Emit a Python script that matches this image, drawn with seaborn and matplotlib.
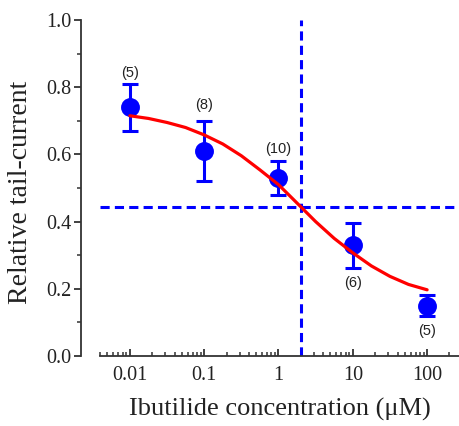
import seaborn as sns
import matplotlib.pyplot as plt
from matplotlib.ticker import FixedLocator, FixedFormatter, MultipleLocator

sns.set_style("ticks")

# measured points (Ibutilide, uM)
conc = [0.01, 0.1, 1, 10, 100]
rel_current = [0.74, 0.61, 0.53, 0.33, 0.15]
err = [0.07, 0.09, 0.05, 0.067, 0.032]
n_cells = ["(5)", "(8)", "(10)", "(6)", "(5)"]
label_y = [0.842, 0.747, 0.615, 0.216, 0.075]

# fitted curve (every quarter decade)
fit_x = [0.01, 0.0178, 0.0316, 0.0562, 0.1, 0.178, 0.316, 0.562, 1,
         1.78, 3.16, 5.62, 10, 17.8, 31.6, 56.2, 100]
fit_y = [0.715, 0.707, 0.695, 0.680, 0.658, 0.631, 0.596, 0.554, 0.510,
         0.455, 0.400, 0.350, 0.307, 0.268, 0.237, 0.213, 0.197]

ic50 = 2.0
half_level = 0.4425

xticks = [0.01, 0.1, 1, 10, 100]
xtick_labels = ["0.01", "0.1", "1", "10", "100"]

fig = plt.figure(figsize=(4.6, 4.26), dpi=100)
ax = fig.add_axes([81 / 460, 70 / 426, 379 / 460, 336 / 426])
ax.set_xscale("log")
ax.set_xlim(0.0022, 277)
ax.set_ylim(0, 1.0)

blue = "#0000FF"
dash = (0, (3, 1.7))

# guide lines
ax.plot([ic50, ic50], [0, 1.0], color=blue, lw=2.2, linestyle=dash, zorder=1)
ax.plot([0.004, 277], [half_level, half_level], color=blue, lw=2.2, linestyle=dash, zorder=1)

# data with error bars
ax.errorbar(conc, rel_current, yerr=err, fmt="none", ecolor=blue, elinewidth=2.2,
            capsize=5.8, capthick=2.2, zorder=2)
sns.scatterplot(x=conc, y=rel_current, ax=ax, color=blue, s=185, edgecolor=blue,
                linewidth=0, zorder=3)

# fit
sns.lineplot(x=fit_x, y=fit_y, ax=ax, color="#FF0000", lw=2.3, zorder=4)

for xv, yv, t in zip(conc, label_y, n_cells):
    ax.text(xv, yv, t, ha="center", va="center", fontsize=10.5,
            family="Liberation Sans", color="#222222")

# axes styling
for s in ["top", "right"]:
    ax.spines[s].set_visible(False)
ax.spines["left"].set_bounds(0, 1.0)
ax.spines["bottom"].set_bounds(0.004, 277)
for s in ["left", "bottom"]:
    ax.spines[s].set_linewidth(1.3)
    ax.spines[s].set_color("#333333")

ax.xaxis.set_major_locator(FixedLocator(xticks))
ax.xaxis.set_major_formatter(FixedFormatter(xtick_labels))
minor = [m * 10.0 ** e for e in range(-3, 3) for m in range(2, 10)]
minor = [v for v in minor if 0.004 <= v <= 277]
ax.xaxis.set_minor_locator(FixedLocator(minor))
ax.xaxis.set_minor_formatter(FixedFormatter([""] * len(minor)))
ax.yaxis.set_major_locator(MultipleLocator(0.2))
ax.yaxis.set_minor_locator(MultipleLocator(0.1))
ax.set_yticklabels([f"{v:.1f}" for v in ax.get_yticks()])

serif = "Liberation Serif"
ax.tick_params(axis="x", which="major", direction="in", length=5, width=1.3,
               color="#333333", pad=7, labelsize=14.5)
ax.tick_params(axis="x", which="minor", direction="in", length=3, width=1.1, color="#333333")
ax.tick_params(axis="y", which="major", direction="out", length=5, width=1.3,
               color="#333333", pad=2, labelsize=14.5)
ax.tick_params(axis="y", which="minor", direction="out", length=3, width=1.1, color="#333333")
for lab in ax.get_xticklabels() + ax.get_yticklabels():
    lab.set_family(serif)
    lab.set_color("#222222")

ax.set_xlabel("Ibutilide concentration (μM)", family=serif, fontsize=19, color="#222222")
ax.set_ylabel("Relative tail-current", family=serif, fontsize=20, color="#222222")
ax.xaxis.set_label_coords(0.525, -0.125)
ax.yaxis.set_label_coords(-0.127, 0.487)

fig.savefig("out.png", dpi=100)
